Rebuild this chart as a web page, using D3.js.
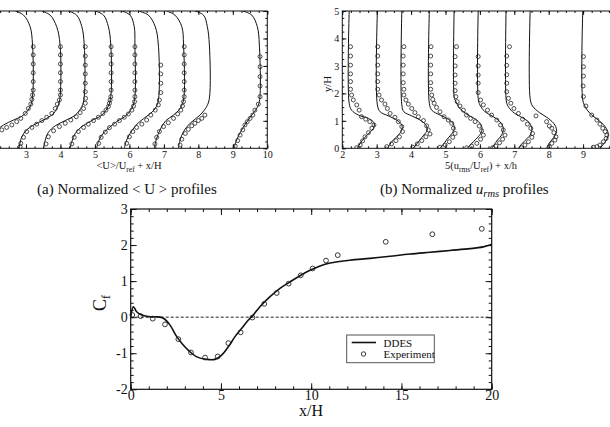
<!DOCTYPE html>
<html>
<head>
<meta charset="utf-8">
<script src="https://cdn.jsdelivr.net/npm/d3@7"></script>
<style>
  body { margin: 0; background: #fff; }
  svg { display: block; }
  text { font-family: "Liberation Serif", "DejaVu Serif", serif; fill: #111; }
</style>
</head>
<body>
<div id="fig"></div>
<script>
// ---- data ----
// (a) <U>/Uref + x/H profiles, [value, y/H]
var uLines = [
  [[2.69,5],[2.93,4.85],[3.12,4.43],[3.19,3.76],[3.19,1.88],[3.12,1.52],[2.93,1.21],[2.64,1.03],[2.35,0.85],[2.11,0.61],[1.96,0.30]],
  [[3.46,5],[3.70,4.85],[3.89,4.43],[3.99,3.76],[3.99,1.88],[3.94,1.58],[3.80,1.27],[3.51,1.03],[3.22,0.85],[3.02,0.67],[2.88,0.42],[2.81,0.06],[2.81,0]],
  [[4.23,5],[4.47,4.85],[4.62,4.43],[4.69,3.76],[4.69,1.88],[4.62,1.52],[4.43,1.21],[4.14,1.01],[3.85,0.82],[3.65,0.58],[3.56,0.30],[3.51,0]],
  [[5.01,5],[5.25,4.85],[5.39,4.43],[5.46,3.76],[5.46,1.88],[5.39,1.54],[5.20,1.21],[4.91,1.01],[4.62,0.79],[4.43,0.54],[4.33,0.24],[4.28,0]],
  [[5.78,5],[6.02,4.85],[6.14,4.43],[6.16,3.76],[6.16,1.88],[6.10,1.54],[5.92,1.21],[5.63,0.97],[5.39,0.73],[5.20,0.48],[5.10,0.24],[5.05,0]],
  [[6.26,5],[6.55,4.85],[6.75,4.43],[6.84,3.76],[6.84,1.76],[6.75,1.45],[6.55,1.21],[6.26,0.93],[6.07,0.64],[5.92,0.30],[5.85,0]],
  [[7.08,5],[7.32,4.85],[7.52,4.43],[7.57,3.76],[7.57,1.76],[7.47,1.45],[7.28,1.21],[7.05,1.00],[6.90,0.70],[6.78,0.32],[6.72,0]],
  [[7.90,5],[8.15,4.85],[8.26,4.43],[8.32,3.76],[8.32,1.82],[8.24,1.52],[8.05,1.21],[7.76,0.91],[7.57,0.61],[7.47,0.30],[7.42,0]],
  [[9.29,5],[9.55,4.85],[9.71,4.43],[9.77,3.76],[9.77,1.70],[9.69,1.45],[9.55,1.21],[9.38,0.91],[9.23,0.61],[9.11,0.30],[9.03,0]]
];
var uExp = [
  [[3.21,3.70],[3.21,3.40],[3.21,3.07],[3.21,2.75],[3.21,2.43],[3.21,2.12],[3.19,1.94],[3.17,1.78],[3.14,1.61],[3.07,1.45],[2.98,1.27],[2.85,1.09],[2.73,0.97],[2.59,0.85],[2.44,0.76],[2.30,0.67]],
  [[4.0,3.70],[4.0,3.40],[4.0,3.07],[4.0,2.75],[4.0,2.43],[4.0,2.12],[4.0,1.94],[3.97,1.76],[3.91,1.61],[3.85,1.45],[3.75,1.27],[3.60,1.13],[3.46,1.01],[3.31,0.88],[3.17,0.76],[3.02,0.61],[2.93,0.40],[2.85,0.18],[2.83,0.06]],
  [[4.72,3.70],[4.72,3.36],[4.72,3.03],[4.72,2.71],[4.72,2.37],[4.72,2.06],[4.73,1.82],[4.72,1.64],[4.67,1.45],[4.57,1.30],[4.46,1.15],[4.30,1.03],[4.14,0.91],[3.97,0.79],[3.80,0.64],[3.65,0.42],[3.58,0.16]],
  [[5.47,3.70],[5.47,3.40],[5.47,3.07],[5.47,2.75],[5.47,2.43],[5.47,2.12],[5.46,1.88],[5.44,1.76],[5.42,1.64],[5.39,1.52],[5.32,1.39],[5.23,1.27],[5.10,1.13],[4.96,1.01],[4.81,0.88],[4.67,0.76],[4.52,0.61],[4.40,0.40],[4.33,0.16]],
  [[6.16,3.70],[6.16,3.40],[6.16,3.07],[6.16,2.75],[6.16,2.43],[6.16,2.12],[6.16,1.88],[6.15,1.70],[6.12,1.54],[6.07,1.39],[5.97,1.25],[5.85,1.13],[5.71,1.01],[5.57,0.88],[5.42,0.75],[5.30,0.59],[5.18,0.40],[5.11,0.18]],
  [[6.91,3.03],[6.91,2.71],[6.91,2.37],[6.91,2.03],[6.87,1.76],[6.84,1.58],[6.75,1.39],[6.62,1.21],[6.50,1.03],[6.36,0.88],[6.21,0.76],[6.10,0.61],[6.00,0.42],[5.92,0.18]],
  [[7.59,3.70],[7.59,3.40],[7.59,3.07],[7.59,2.75],[7.59,2.43],[7.59,2.12],[7.59,1.88],[7.57,1.70],[7.54,1.54],[7.49,1.39],[7.40,1.25],[7.28,1.09],[7.13,0.93],[6.99,0.79],[6.87,0.61],[6.79,0.40],[6.74,0.16]],
  [[8.19,1.21],[8.10,1.09],[8.00,1.01],[7.90,0.91],[7.81,0.82],[7.71,0.69],[7.62,0.54],[7.52,0.33],[7.47,0.12]],
  [[9.79,3.34],[9.79,2.97],[9.79,2.61],[9.79,2.27],[9.79,1.88],[9.74,1.61],[9.64,1.39],[9.58,1.21],[9.50,1.09],[9.42,0.97],[9.35,0.85],[9.29,0.67],[9.21,0.48],[9.14,0.28],[9.07,0.08]]
];

// (b) 5(urms/Uref) + x/h profiles, [value, y/H]
var rmsLines = [
  [[2.20,5],[2.20,1.64],[2.27,1.39],[2.47,1.21],[2.76,1.09],[2.92,0.93],[2.92,0.76],[2.79,0.57],[2.63,0.36],[2.51,0.16],[2.44,0]],
  [[3.02,5],[3.02,1.58],[3.10,1.33],[3.34,1.18],[3.58,1.03],[3.73,0.85],[3.73,0.67],[3.63,0.48],[3.48,0.30],[3.37,0.12],[3.31,0]],
  [[3.73,5],[3.73,1.58],[3.79,1.33],[4.02,1.18],[4.26,1.03],[4.43,0.85],[4.47,0.67],[4.37,0.48],[4.24,0.28],[4.14,0.12],[4.06,0]],
  [[4.53,5],[4.53,1.64],[4.60,1.39],[4.84,1.21],[5.08,1.06],[5.23,0.88],[5.25,0.69],[5.15,0.48],[5.03,0.30],[4.92,0.12],[4.84,0]],
  [[5.25,5],[5.25,1.88],[5.28,1.76],[5.42,1.45],[5.66,1.21],[5.91,1.03],[6.05,0.81],[6.05,0.61],[5.95,0.42],[5.81,0.24],[5.69,0.08],[5.63,0]],
  [[5.95,5],[5.95,1.82],[6.00,1.58],[6.15,1.33],[6.39,1.15],[6.58,0.97],[6.68,0.73],[6.63,0.48],[6.51,0.30],[6.41,0.12],[6.34,0]],
  [[6.76,5],[6.76,1.82],[6.80,1.58],[6.95,1.33],[7.21,1.13],[7.44,0.93],[7.51,0.69],[7.46,0.48],[7.31,0.28],[7.19,0.12],[7.12,0]],
  [[7.46,5],[7.46,1.82],[7.53,1.54],[7.73,1.30],[7.99,1.09],[8.18,0.85],[8.23,0.61],[8.15,0.40],[8.02,0.20],[7.94,0]],
  [[8.99,5],[8.99,1.76],[9.06,1.52],[9.20,1.27],[9.44,1.03],[9.64,0.79],[9.73,0.54],[9.68,0.30],[9.57,0.12],[9.49,0]]
];
var rmsExp = [
  [[2.24,3.70],[2.24,3.36],[2.24,3.03],[2.24,2.71],[2.24,2.43],[2.24,2.15],[2.27,1.94],[2.32,1.76],[2.42,1.58],[2.49,1.39],[2.56,1.15],[2.68,1.06],[2.80,0.97],[2.92,0.85],[2.86,0.73],[2.76,0.57],[2.66,0.42],[2.59,0.27],[2.52,0.12],[2.42,0.02]],
  [[3.03,3.70],[3.03,3.36],[3.03,3.03],[3.03,2.71],[3.03,2.43],[3.03,2.15],[3.07,1.94],[3.14,1.76],[3.24,1.61],[3.31,1.45],[3.39,1.27],[3.53,1.13],[3.63,0.97],[3.73,0.79],[3.75,0.61],[3.66,0.42],[3.56,0.28],[3.43,0.16],[3.29,0.06]],
  [[3.79,3.70],[3.77,3.36],[3.77,3.03],[3.77,2.71],[3.77,2.39],[3.79,2.15],[3.79,1.94],[3.85,1.76],[3.92,1.61],[4.02,1.45],[4.11,1.30],[4.21,1.15],[4.36,1.01],[4.45,0.82],[4.50,0.67],[4.55,0.52],[4.43,0.42],[4.31,0.28],[4.18,0.16],[4.05,0.04]],
  [[4.58,3.70],[4.57,3.36],[4.57,3.03],[4.57,2.71],[4.57,2.39],[4.57,2.15],[4.60,1.94],[4.63,1.78],[4.67,1.64],[4.74,1.49],[4.84,1.33],[4.96,1.15],[5.08,1.03],[5.18,0.91],[5.23,0.73],[5.28,0.54],[5.21,0.40],[5.11,0.24],[4.99,0.12],[4.84,0.04]],
  [[5.32,3.70],[5.28,3.34],[5.28,3.00],[5.28,2.67],[5.28,2.37],[5.28,2.10],[5.30,1.88],[5.34,1.70],[5.42,1.54],[5.52,1.39],[5.61,1.21],[5.73,1.09],[5.86,0.97],[5.98,0.81],[6.05,0.64],[6.10,0.48],[6.02,0.33],[5.91,0.18],[5.76,0.08],[5.62,0.02]],
  [[5.95,3.34],[5.95,3.00],[5.95,2.67],[5.95,2.37],[5.95,2.03],[6.02,1.76],[6.10,1.58],[6.22,1.39],[6.34,1.21],[6.49,1.03],[6.60,0.85],[6.68,0.67],[6.73,0.48],[6.66,0.33],[6.57,0.20],[6.47,0.08],[6.37,0.02]],
  [[6.86,3.70],[6.78,3.36],[6.78,3.02],[6.78,2.68],[6.78,2.37],[6.78,2.06],[6.83,1.82],[6.90,1.64],[6.99,1.45],[7.12,1.27],[7.24,1.06],[7.38,0.88],[7.48,0.73],[7.53,0.54],[7.51,0.40],[7.41,0.24],[7.31,0.12],[7.21,0.02]],
  [[7.63,1.18],[7.94,0.97],[8.02,0.81],[8.09,0.73],[8.15,0.57],[8.21,0.42],[8.18,0.30],[8.09,0.18],[8.02,0.06]],
  [[9.01,3.34],[9.01,2.97],[9.01,2.63],[9.00,2.27],[9.01,1.88],[9.08,1.54],[9.25,1.21],[9.40,1.03],[9.49,0.88],[9.57,0.73],[9.64,0.61],[9.69,0.48],[9.67,0.36],[9.59,0.24],[9.49,0.12],[9.40,0.06],[9.30,0.04]]
];

// skin friction
var cfX    = [0,0.15,0.33,0.61,1.07,1.53,1.81,2.18,2.55,2.91,3.29,3.66,4.21,4.67,5.04,5.41,5.78,6.15,6.52,6.79,7.16,7.72,8.27,8.83,9.38,9.93,10.49,11.04,12.15,13.26,14.37,15.47,16.58,17.69,18.8,19.53,19.9,20];
var cfDDES = [0,0.29,0.15,0.06,0.01,0.01,-0.03,-0.22,-0.54,-0.77,-0.96,-1.10,-1.17,-1.17,-1.05,-0.82,-0.54,-0.31,-0.08,0.06,0.29,0.57,0.80,0.98,1.15,1.30,1.42,1.50,1.58,1.63,1.69,1.75,1.80,1.85,1.90,1.95,2.0,2.02];
var expX  = [0.09,0.55,1.22,1.90,2.64,3.34,4.12,4.82,5.41,6.09,6.74,7.40,8.09,8.75,9.42,10.08,10.82,11.47,14.13,16.71,19.45];
var expCf = [0.06,0.03,-0.04,-0.20,-0.61,-0.98,-1.12,-1.09,-0.72,-0.42,-0.01,0.37,0.67,0.93,1.16,1.35,1.57,1.72,2.09,2.30,2.45];

var profTicksX = [2,3,4,5,6,7,8,9,10];
var profTicksY = [0,1,2,3,4,5];
var cfTicksX = [0,5,10,15,20];
var cfTicksY = [-2,-1,0,1,2,3];

// ---- drawing ----
var W = 610, H = 427;
var svg = d3.select("#fig").append("svg").attr("width", W).attr("height", H);

function minorVals(domain, step) {
  var out = [];
  var n = Math.round((domain[1] - domain[0]) / step);
  for (var i = 0; i <= n; i++) out.push(+(domain[0] + i * step).toFixed(4));
  return out;
}

// box with inward ticks on all four sides
function frame(g, x, y, o) {
  var x0 = x.range()[0], x1 = x.range()[1], y0 = y.range()[0], y1 = y.range()[1];
  function clean(sel) {
    sel.attr("font-family", null);
    sel.select(".domain").remove();
    sel.selectAll("line").attr("stroke", "#111");
    // labels that would fall outside the picture are not drawn
    sel.selectAll(".tick").filter(function() {
      var t = d3.select(this).attr("transform");
      var m = /translate\(([-\d.]+),([-\d.]+)\)/.exec(t);
      return m && +m[1] < 0;
    }).select("text").remove();
  }
  var fmt = function(d) { return String(d); };
  [[o.xMinor, o.minLen, false], [o.xTicks, o.majLen, true]].forEach(function(t) {
    g.append("g").attr("transform", "translate(0," + y0 + ")")
      .call(d3.axisBottom(x).tickValues(t[0]).tickSize(-t[1]).tickPadding(o.padX)
        .tickFormat(t[2] ? fmt : ""))
      .call(clean)
      .selectAll("text").attr("font-size", o.font);
    g.append("g").attr("transform", "translate(0," + y1 + ")")
      .call(d3.axisTop(x).tickValues(t[0]).tickSize(-t[1]).tickFormat("")).call(clean);
  });
  [[o.yMinor, o.minLen, false], [o.yTicks, o.majLen, o.leftLabels]].forEach(function(t) {
    g.append("g").attr("transform", "translate(" + x0 + ",0)")
      .call(d3.axisLeft(y).tickValues(t[0]).tickSize(-t[1]).tickPadding(o.padY)
        .tickFormat(t[2] ? fmt : ""))
      .call(clean)
      .selectAll("text").attr("font-size", o.font);
    g.append("g").attr("transform", "translate(" + x1 + ",0)")
      .call(d3.axisRight(y).tickValues(t[0]).tickSize(-t[1]).tickFormat("")).call(clean);
  });
  g.append("rect").attr("x", x0).attr("y", y1).attr("width", x1 - x0).attr("height", y0 - y1)
    .attr("fill", "none").attr("stroke", "#111").attr("stroke-width", o.sw);
}

function profiles(g, x, y, lines, exp, id) {
  g.append("clipPath").attr("id", id).append("rect")
    .attr("x", x.range()[0]).attr("y", y.range()[1])
    .attr("width", x.range()[1] - x.range()[0]).attr("height", y.range()[0] - y.range()[1]);
  var inner = g.append("g").attr("clip-path", "url(#" + id + ")");
  var line = d3.line().x(function(d) { return x(d[0]); }).y(function(d) { return y(d[1]); })
    .curve(d3.curveCatmullRom.alpha(0.5));
  inner.selectAll("path.prof").data(lines).enter().append("path")
    .attr("class", "prof").attr("d", line)
    .attr("fill", "none").attr("stroke", "#111").attr("stroke-width", 1);
  inner.selectAll("g.exp").data(exp).enter().append("g").attr("class", "exp")
    .selectAll("circle").data(function(d) { return d; }).enter().append("circle")
    .attr("cx", function(d) { return x(d[0]); }).attr("cy", function(d) { return y(d[1]); })
    .attr("r", 2).attr("fill", "none").attr("stroke", "#222").attr("stroke-width", 0.8);
}

// panel (a), its left side is cut off by the picture edge
var xA = d3.scaleLinear().domain([2, 10]).range([-8.5, 267.3]);
var yA = d3.scaleLinear().domain([0, 5]).range([148.3, 11]);
var gA = svg.append("g");
profiles(gA, xA, yA, uLines, uExp, "clipA");
frame(gA, xA, yA, { xTicks: profTicksX, yTicks: profTicksY, xMinor: minorVals([2, 10], 0.25),
  yMinor: minorVals([0, 5], 0.25), majLen: 4, minLen: 2, padX: 3, padY: 3, font: 10, sw: 1,
  leftLabels: false });
var tA = gA.append("text").attr("x", 129).attr("y", 169).attr("text-anchor", "middle").attr("font-size", 10.5);
tA.append("tspan").text("<U>/U");
tA.append("tspan").attr("font-size", 7.5).attr("dy", 3).text("ref");
tA.append("tspan").attr("dy", -3).text(" + x/H");

// panel (b)
var xB = d3.scaleLinear().domain([2, 10]).range([342.3, 617.5]);
var yB = d3.scaleLinear().domain([0, 5]).range([148.3, 11]);
var gB = svg.append("g");
profiles(gB, xB, yB, rmsLines, rmsExp, "clipB");
frame(gB, xB, yB, { xTicks: profTicksX.slice(0, -1), yTicks: profTicksY, xMinor: minorVals([2, 10], 0.25),
  yMinor: minorVals([0, 5], 0.25), majLen: 4, minLen: 2, padX: 3, padY: 3, font: 10, sw: 1,
  leftLabels: true });
var tB = gB.append("text").attr("x", 481).attr("y", 169).attr("text-anchor", "middle").attr("font-size", 10.5);
tB.append("tspan").text("5(u");
tB.append("tspan").attr("font-size", 7.5).attr("dy", 3).text("rms");
tB.append("tspan").attr("dy", -3).text("/U");
tB.append("tspan").attr("font-size", 7.5).attr("dy", 3).text("ref");
tB.append("tspan").attr("dy", -3).text(") + x/h");
gB.append("text").attr("transform", "translate(331,84) rotate(-90)")
  .attr("text-anchor", "middle").attr("font-size", 11).text("y/H");

// captions
svg.append("text").attr("x", 37).attr("y", 194).attr("font-size", 15).text("(a) Normalized < U > profiles");
var cb = svg.append("text").attr("x", 380).attr("y", 194).attr("font-size", 15);
cb.append("tspan").text("(b) Normalized ");
cb.append("tspan").attr("font-style", "italic").text("u");
cb.append("tspan").attr("font-style", "italic").attr("font-size", 10.5).attr("dy", 3).text("rms");
cb.append("tspan").attr("dy", -3).text(" profiles");

// Cf panel
var xC = d3.scaleLinear().domain([0, 20]).range([130.7, 491.7]);
var yC = d3.scaleLinear().domain([-2, 3]).range([389.3, 209]);
var gC = svg.append("g");
frame(gC, xC, yC, { xTicks: cfTicksX, yTicks: cfTicksY, xMinor: minorVals([0, 20], 1),
  yMinor: minorVals([-2, 3], 0.2), majLen: 6, minLen: 3, padX: 1, padY: 3, font: 14, sw: 1.2,
  leftLabels: true });

gC.append("line").attr("x1", xC(0)).attr("x2", xC(20)).attr("y1", yC(0)).attr("y2", yC(0))
  .attr("stroke", "#222").attr("stroke-width", 1).attr("stroke-dasharray", "3,2");

var cfData = cfX.map(function(v, i) { return [v, cfDDES[i]]; });
gC.append("path").datum(cfData)
  .attr("d", d3.line().x(function(d) { return xC(d[0]); }).y(function(d) { return yC(d[1]); })
    .curve(d3.curveCatmullRom.alpha(0.5)))
  .attr("fill", "none").attr("stroke", "#111").attr("stroke-width", 1.6);

gC.selectAll("circle.exp").data(expX.map(function(v, i) { return [v, expCf[i]]; }))
  .enter().append("circle").attr("class", "exp")
  .attr("cx", function(d) { return xC(d[0]); }).attr("cy", function(d) { return yC(d[1]); })
  .attr("r", 2.4).attr("fill", "none").attr("stroke", "#222").attr("stroke-width", 0.9);

gC.append("text").attr("x", 311).attr("y", 416).attr("text-anchor", "middle").attr("font-size", 16).text("x/H");
var cf = gC.append("text").attr("transform", "translate(106,303) rotate(-90)")
  .attr("text-anchor", "middle").attr("font-size", 18);
cf.append("tspan").text("C");
cf.append("tspan").attr("font-size", 12).attr("dy", 4).text("f");

// legend
var lg = gC.append("g");
lg.append("rect").attr("x", 346.7).attr("y", 335).attr("width", 87.6).attr("height", 27.7)
  .attr("fill", "#fff").attr("stroke", "#555").attr("stroke-width", 1);
lg.append("line").attr("x1", 351.7).attr("x2", 376).attr("y1", 342.5).attr("y2", 342.5)
  .attr("stroke", "#111").attr("stroke-width", 1.6);
lg.append("circle").attr("cx", 363.5).attr("cy", 354).attr("r", 2.2)
  .attr("fill", "none").attr("stroke", "#222").attr("stroke-width", 0.9);
lg.append("text").attr("x", 383.5).attr("y", 346.5).attr("font-size", 11).text("DDES");
lg.append("text").attr("x", 383.5).attr("y", 358).attr("font-size", 11).text("Experiment");
</script>
</body>
</html>
